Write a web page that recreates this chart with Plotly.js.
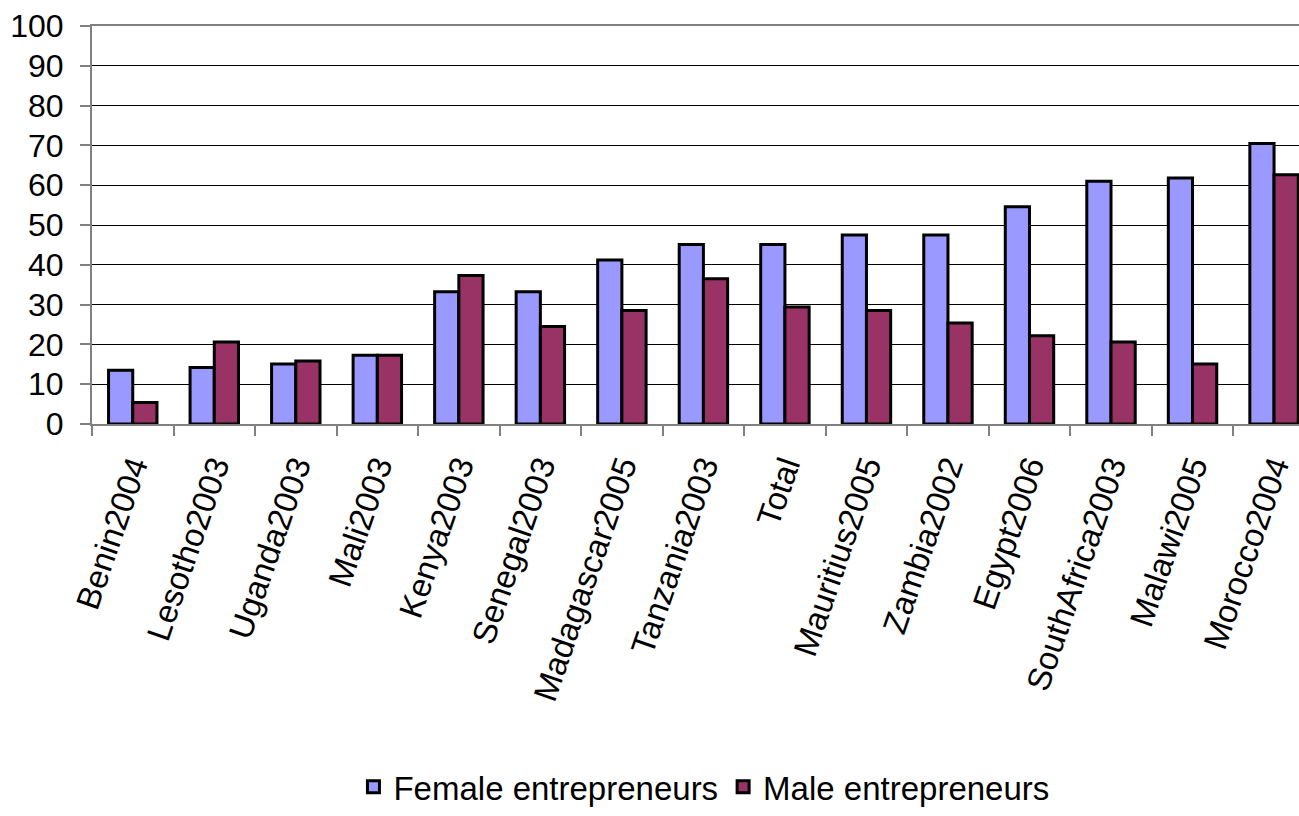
<!DOCTYPE html>
<html>
<head>
<meta charset="utf-8">
<script src="https://cdn.plot.ly/plotly-3.0.1.min.js"></script>
<style>html,body{margin:0;padding:0;background:#fff;}#chart{width:1299px;height:816px;}</style>
</head>
<body>
<div id="chart"></div>
<script>
const categories = ["Benin2004","Lesotho2003","Uganda2003","Mali2003","Kenya2003","Senegal2003","Madagascar2005","Tanzania2003","Total","Mauritius2005","Zambia2002","Egypt2006","SouthAfrica2003","Malawi2005","Morocco2004"];
const femaleValues = [13.5, 14.2, 15.1, 17.3, 33.2, 33.2, 41.2, 45.1, 45.1, 47.5, 47.5, 54.6, 61.0, 61.8, 70.5];
const maleValues   = [5.4, 20.6, 15.8, 17.3, 37.3, 24.5, 28.5, 36.5, 29.4, 28.5, 25.4, 22.2, 20.6, 15.1, 62.6];
const yTickValues = [0,10,20,30,40,50,60,70,80,90,100];

const font = "Liberation Sans, Arial, sans-serif";
const data = [
  {type:"bar", name:"Female entrepreneurs", x:categories, y:femaleValues,
   marker:{color:"#9999FF", line:{color:"#000000", width:3}}},
  {type:"bar", name:"Male entrepreneurs", x:categories, y:maleValues,
   marker:{color:"#993366", line:{color:"#000000", width:3}}}
];
const layout = {
  width:1299, height:816,
  margin:{l:92, r:0, t:26, b:392, pad:0},
  paper_bgcolor:"#ffffff", plot_bgcolor:"#ffffff",
  font:{family:font, color:"#000000"},
  barmode:"group", bargap:0.406, bargroupgap:0,
  showlegend:true,
  legend:{orientation:"h", x:0.507, xanchor:"center", y:-0.982, yanchor:"bottom",
          font:{family:font, size:33, color:"#000"}, itemwidth:30, bgcolor:"rgba(0,0,0,0)"},
  xaxis:{type:"category", range:[-0.5, 14.306], tickson:"boundaries",
         ticks:"outside", ticklen:10, tickcolor:"#808080", tickwidth:2,
         showline:true, linecolor:"#808080", linewidth:2, mirror:true,
         showgrid:false, tickangle:-71, ticklabelstandoff:8,
         tickfont:{family:font, size:33, color:"#000"}, automargin:false},
  yaxis:{range:[0,100], tickvals:yTickValues, ticktext:yTickValues.map(String),
         ticks:"outside", ticklen:10, tickcolor:"#808080", tickwidth:2,
         showline:true, linecolor:"#808080", linewidth:2,
         showgrid:true, gridcolor:"#000000", gridwidth:1, zeroline:false,
         tickfont:{family:font, size:32, color:"#000"}, ticklabelstandoff:10, automargin:false}
};
Plotly.newPlot("chart", data, layout, {displayModeBar:false, staticPlot:true});
</script>
</body>
</html>
